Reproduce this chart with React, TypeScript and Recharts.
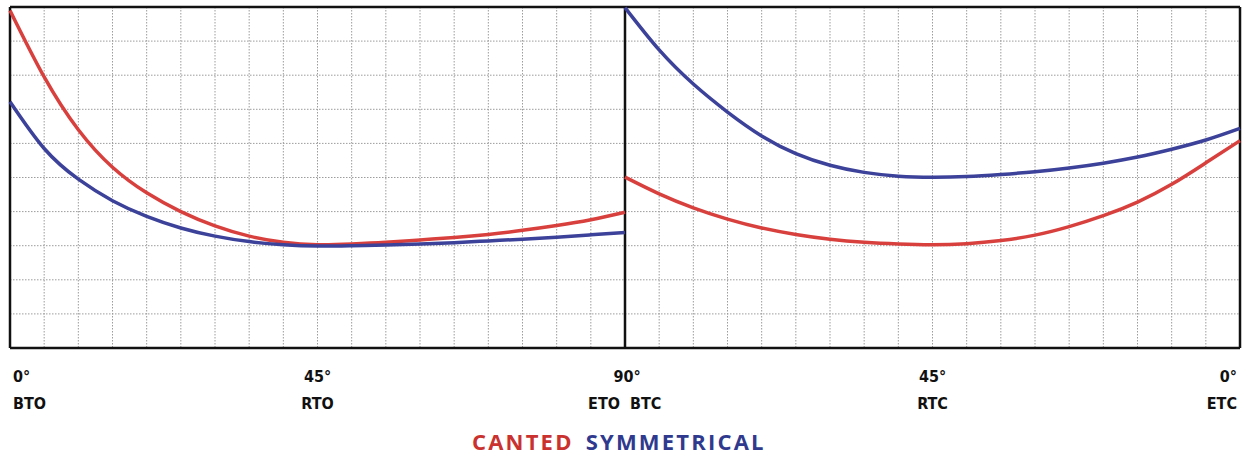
import { CartesianGrid, Line, LineChart, ReferenceLine, XAxis, YAxis } from "recharts"

// degrees in each half of the stroke, 5° steps
const STEPS = [0, 5, 10, 15, 20, 25, 30, 35, 40, 45, 50, 55, 60, 65, 70, 75, 80, 85, 90]

// opening stroke, 0° → 90°
const cantedOpening = [9.9, 7.95, 6.4, 5.3, 4.55, 4.0, 3.58, 3.28, 3.1, 3.03, 3.05, 3.1, 3.17, 3.24, 3.33, 3.45, 3.59, 3.76, 3.98]
const symmetricalOpening = [7.22, 5.85, 4.95, 4.32, 3.86, 3.52, 3.28, 3.12, 3.03, 2.99, 3.0, 3.02, 3.05, 3.09, 3.14, 3.19, 3.25, 3.32, 3.39]

// closing stroke, 90° → 0°
const cantedClosing = [5.01, 4.52, 4.11, 3.78, 3.52, 3.33, 3.19, 3.1, 3.05, 3.03, 3.06, 3.15, 3.31, 3.56, 3.88, 4.28, 4.8, 5.43, 6.08]
const symmetricalClosing = [9.98, 8.74, 7.74, 6.92, 6.22, 5.7, 5.36, 5.15, 5.04, 5.01, 5.03, 5.09, 5.17, 5.28, 5.42, 5.6, 5.83, 6.1, 6.44]

const tickDegrees = ["0°", "45°", "90°", "45°", "0°"]
const tickPhases = ["BTO", "RTO", "ETO BTC", "RTC", "ETC"]

const yTicks = [0, 1, 2, 3, 4, 5, 6, 7, 8, 9, 10]

const RED = "#d8403e"
const BLUE = "#3c4199"
const HALF = STEPS.length - 1

const data = Array.from({ length: HALF * 2 + 1 }, (_, i) => ({
  pos: i,
  cantedOpen: i <= HALF ? cantedOpening[i] : null,
  symOpen: i <= HALF ? symmetricalOpening[i] : null,
  cantedClose: i >= HALF ? cantedClosing[i - HALF] : null,
  symClose: i >= HALF ? symmetricalClosing[i - HALF] : null,
}))

const xTicks = data.map((d) => d.pos)

const labelFont = "'Liberation Sans Narrow', 'DejaVu Sans Condensed', Roboto, sans-serif"

function PhaseTick(props: any) {
  const { x, y, payload } = props
  const v = payload.value as number
  if (v % (HALF / 2) !== 0) return <g />
  const k = v / (HALF / 2)
  const last = tickDegrees.length - 1
  const anchor = k === 0 ? "start" : k === last ? "end" : "middle"
  const dx = k === 0 ? 3 : k === last ? -3 : 0
  const words = tickPhases[k].split(" ")
  const style = { fontFamily: labelFont, fontWeight: 700, fontSize: 16, fill: "#111" }
  return (
    <g>
      <text x={x + dx + (k === 2 ? 2 : 0)} y={y + 34} textAnchor={anchor} style={style}>
        {tickDegrees[k]}
      </text>
      {words.length === 2 ? (
        <>
          <text x={x - 5} y={y + 61} textAnchor="end" style={style}>{words[0]}</text>
          <text x={x + 5} y={y + 61} textAnchor="start" style={style}>{words[1]}</text>
        </>
      ) : (
        <text x={x + dx} y={y + 61} textAnchor={anchor} style={style}>
          {tickPhases[k]}
        </text>
      )}
    </g>
  )
}

export default function App() {
  return (
    <div style={{ position: "absolute", left: 0, top: 0, width: 1249, height: 460, background: "#fff" }}>
      <LineChart width={1249} height={460} data={data} margin={{ top: 7, right: 9, left: 10, bottom: 0 }}>
        <CartesianGrid stroke="#9c9c9c" strokeDasharray="1.5 1.5" />
        <XAxis
          dataKey="pos"
          type="number"
          domain={[0, HALF * 2]}
          ticks={xTicks}
          interval={0}
          height={112}
          axisLine={false}
          tickLine={false}
          tickSize={0}
          tickMargin={0}
          tick={<PhaseTick />}
        />
        <YAxis hide domain={[0, 10]} ticks={yTicks} />
        <ReferenceLine x={0} stroke="#111" strokeWidth={2.5} />
        <ReferenceLine x={HALF} stroke="#111" strokeWidth={2.5} />
        <ReferenceLine x={HALF * 2} stroke="#111" strokeWidth={2.5} />
        <ReferenceLine y={0} stroke="#111" strokeWidth={2.5} />
        <ReferenceLine y={10} stroke="#111" strokeWidth={2.5} />
        <Line dataKey="cantedOpen" type="natural" stroke={RED} strokeWidth={3.5} dot={false} isAnimationActive={false} />
        <Line dataKey="symOpen" type="natural" stroke={BLUE} strokeWidth={3.5} dot={false} isAnimationActive={false} />
        <Line dataKey="cantedClose" type="natural" stroke={RED} strokeWidth={3.5} dot={false} isAnimationActive={false} />
        <Line dataKey="symClose" type="natural" stroke={BLUE} strokeWidth={3.5} dot={false} isAnimationActive={false} />
      </LineChart>
      <div
        style={{
          position: "absolute",
          left: 472,
          top: 427,
          fontFamily: "'Open Sans', sans-serif",
          fontWeight: 700,
          fontSize: 22,
          letterSpacing: 2.2,
          whiteSpace: "nowrap",
          lineHeight: "28px",
        }}
      >
        <span style={{ color: "#c9322f" }}>CANTED</span>
        <span style={{ color: "#2f3a8e", marginLeft: 12 }}>SYMMETRICAL</span>
      </div>
    </div>
  )
}
